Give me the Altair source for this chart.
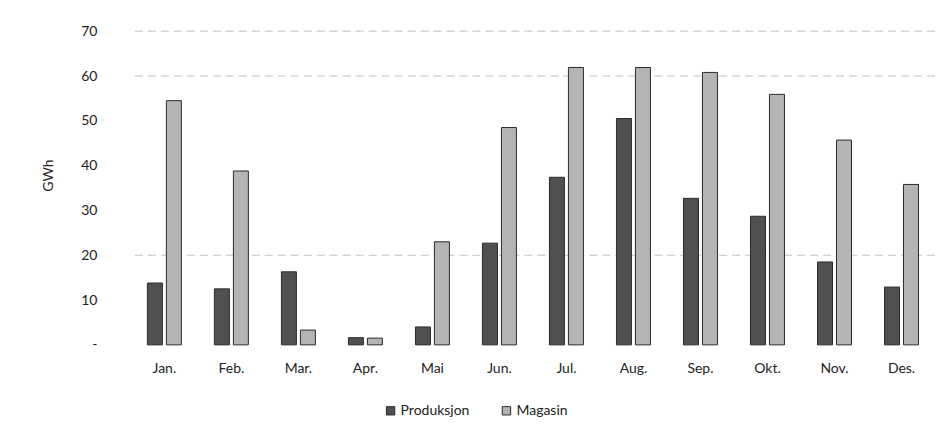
import altair as alt
import pandas as pd

months = ["Jan.", "Feb.", "Mar.", "Apr.", "Mai", "Jun.", "Jul.", "Aug.", "Sep.", "Okt.", "Nov.", "Des."]
produksjon = [13.8, 12.5, 16.3, 1.6, 4.0, 22.7, 37.4, 50.5, 32.7, 28.7, 18.5, 12.9]
magasin = [54.5, 38.8, 3.3, 1.5, 23.0, 48.5, 61.9, 61.9, 60.8, 55.9, 45.7, 35.8]
series = ["Produksjon", "Magasin"]
grid_values = [20, 60, 70]

rows = []
for i, m in enumerate(months):
    rows.append({"month": m, "serie": series[0], "value": produksjon[i]})
    rows.append({"month": m, "serie": series[1], "value": magasin[i]})
df = pd.DataFrame(rows)
grid_df = pd.DataFrame({"v": grid_values})

FONT = "Lato"

grid = alt.Chart(grid_df).mark_rule(color="#b0b0b0", strokeWidth=1, strokeDash=[8, 5], opacity=0.8).encode(
    y=alt.Y("v:Q", scale=alt.Scale(domain=[0, 70]))
)

bars = alt.Chart(df).mark_bar(stroke="#2a2a2a", strokeWidth=1).encode(
    x=alt.X("month:N", sort=months, title=None,
            scale=alt.Scale(paddingInner=0.493, paddingOuter=0.2465),
            axis=alt.Axis(labelAngle=0, ticks=False, domain=False, labelPadding=17,
                          labelFont=FONT, labelFontSize=14, labelColor="#222")),
    xOffset=alt.XOffset("serie:N", sort=series, scale=alt.Scale(paddingInner=0.21)),
    y=alt.Y("value:Q", title="GWh", scale=alt.Scale(domain=[0, 70], nice=False),
            axis=alt.Axis(values=[0, 10, 20, 30, 40, 50, 60, 70], grid=False, ticks=False, domain=False,
                          labelExpr="datum.value == 0 ? '-' : datum.label",
                          labelPadding=34, labelFont=FONT, labelFontSize=14, labelColor="#222",
                          titleFont=FONT, titleFontSize=14, titleFontWeight="normal", titleColor="#222",
                          titleX=-82, titleY=144, titleBaseline="middle")),
    color=alt.Color("serie:N", sort=series, title=None,
                    scale=alt.Scale(domain=series, range=["#505050", "#b4b4b4"]),
                    legend=alt.Legend(orient="none", legendX=253, legendY=373, direction="horizontal",
                                      symbolType="square", symbolSize=70, symbolStrokeColor="#2a2a2a",
                                      symbolStrokeWidth=1, labelFont=FONT, labelFontSize=14,
                                      labelColor="#222", columnPadding=30, labelOffset=3)),
)

chart = alt.layer(grid, bars).properties(
    width=805, height=314,
    padding={"left": 34, "top": 16, "right": 5, "bottom": 10},
).configure_view(stroke=None)

chart.save("out.html", embed_options={"renderer": "svg", "actions": False})
